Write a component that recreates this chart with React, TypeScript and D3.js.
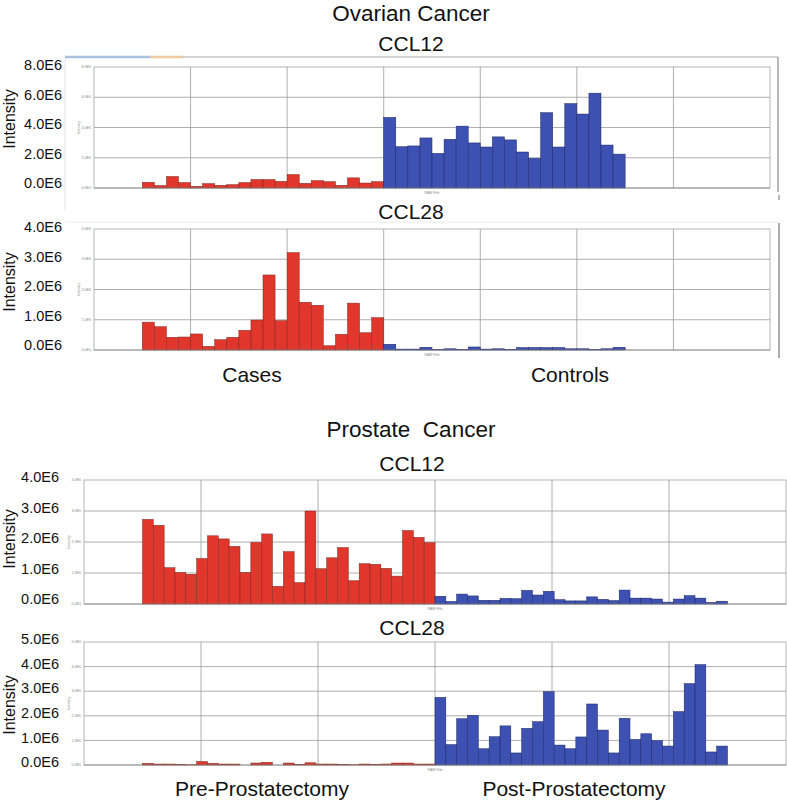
import React from "react";
import * as d3 from "d3";

// Values in units of 1E6 intensity
const ovarianCCL12Cases = [0.38, 0.16, 0.76, 0.36, 0.11, 0.29, 0.18, 0.22, 0.36, 0.56, 0.56, 0.44, 0.89, 0.31, 0.49, 0.42, 0.18, 0.67, 0.33, 0.42];
const ovarianCCL12Controls = [4.67, 2.73, 2.78, 3.31, 2.29, 3.22, 4.09, 2.98, 2.71, 3.38, 3.18, 2.38, 1.96, 4.98, 2.71, 5.58, 4.89, 6.27, 2.84, 2.24];
const ovarianCCL28Cases = [0.92, 0.77, 0.42, 0.43, 0.53, 0.12, 0.34, 0.42, 0.65, 0.99, 2.48, 0.97, 3.22, 1.58, 1.48, 0.14, 0.52, 1.55, 0.57, 1.07];
const ovarianCCL28Controls = [0.19, 0.03, 0.03, 0.09, 0.01, 0.04, 0.01, 0.1, 0.03, 0.04, 0.02, 0.08, 0.08, 0.08, 0.08, 0.04, 0.04, 0.01, 0.04, 0.09];
const prostateCCL12Pre = [2.73, 2.54, 1.17, 1.02, 0.96, 1.47, 2.2, 2.1, 1.86, 1.02, 1.99, 2.26, 0.57, 1.69, 0.69, 3.0, 1.14, 1.49, 1.82, 0.75, 1.3, 1.28, 1.15, 0.9, 2.37, 2.15, 1.98];
const prostateCCL12Post = [0.25, 0.08, 0.32, 0.26, 0.12, 0.12, 0.18, 0.17, 0.44, 0.29, 0.41, 0.14, 0.1, 0.1, 0.23, 0.15, 0.11, 0.45, 0.19, 0.19, 0.16, 0.06, 0.16, 0.27, 0.19, 0.05, 0.09];
const prostateCCL28Pre = [0.07, 0.04, 0.04, 0.03, 0.01, 0.14, 0.07, 0.04, 0.04, 0.0, 0.08, 0.11, 0.0, 0.08, 0.03, 0.09, 0.04, 0.04, 0.03, 0.01, 0.04, 0.03, 0.04, 0.08, 0.08, 0.04, 0.04];
const prostateCCL28Post = [2.75, 0.83, 1.88, 2.02, 0.66, 1.15, 1.59, 0.49, 1.49, 1.76, 2.98, 0.81, 0.66, 1.14, 2.48, 1.42, 0.49, 1.9, 1.04, 1.27, 0.99, 0.77, 2.17, 3.31, 4.08, 0.53, 0.77];

const ovarianTicks12 = [0, 2, 4, 6, 8];
const ovarianTicks28 = [0, 1, 2, 3, 4];
const prostateTicks12 = [0, 1, 2, 3, 4];
const prostateTicks28 = [0, 1, 2, 3, 4, 5];

const RED = "#e1362b";
const RED_STROKE = "#7a2a22";
const BLUE = "#3c51b1";
const BLUE_STROKE = "#1c2563";
const GRID = "#9a9a9a";
const SANS = "'Liberation Sans', Arial, sans-serif";

type Cfg = {
  red: number[];
  blue: number[];
  ticks: number[];
  left: number;
  right: number;
  top: number;
  bottom: number;
  before: number;
  total: number;
  cols: number;
  labelTop: number;
  labelBottom: number;
  labelX: number;
  intensityY: number;
  tinyZero: string;
};

function Panel({ c }: { c: Cfg }) {
  const yMax = c.ticks[c.ticks.length - 1];
  const x = d3.scaleLinear().domain([-c.before, c.total - c.before]).range([c.left, c.right]);
  const y = d3.scaleLinear().domain([0, yMax]).range([c.bottom, c.top]);
  const ly = d3.scaleLinear().domain([0, yMax]).range([c.labelBottom, c.labelTop]);
  const data = [
    ...c.red.map((v) => ({ v, g: 0 })),
    ...c.blue.map((v) => ({ v, g: 1 })),
  ];
  const xGrid = d3.range(1, c.cols).map((i) => -c.before + (i * c.total) / c.cols);
  const fmt = (d: number) => d.toFixed(1) + "E6";
  return (
    <g>
      <rect x={c.left} y={c.top} width={c.right - c.left} height={c.bottom - c.top} fill="#fff" stroke="#b5b5b5" strokeWidth={1} />
      {c.ticks.slice(1, -1).map((t) => (
        <line key={"h" + t} x1={c.left} x2={c.right} y1={y(t)} y2={y(t)} stroke={GRID} strokeWidth={0.8} />
      ))}
      {xGrid.map((g) => (
        <line key={"v" + g} x1={x(g)} x2={x(g)} y1={c.top} y2={c.bottom} stroke={GRID} strokeWidth={0.8} />
      ))}
      {data.map((d, i) => (
        <rect
          key={i}
          x={x(i)}
          y={y(d.v)}
          width={x(i + 1) - x(i)}
          height={c.bottom - y(d.v)}
          fill={d.g === 0 ? RED : BLUE}
          stroke={d.g === 0 ? RED_STROKE : BLUE_STROKE}
          strokeWidth={0.5}
        />
      ))}
      <line x1={c.left} x2={c.right} y1={c.bottom} y2={c.bottom} stroke="#888" strokeWidth={0.8} />
      {/* tiny inner axis labels */}
      {c.ticks.map((t) => (
        <text key={"s" + t} x={c.left - 3} y={y(t) + 1.2} fontSize={3.6} textAnchor="end" fill="#888" fontFamily={SANS}>
          {t === 0 ? c.tinyZero : fmt(t)}
        </text>
      ))}
      <text transform={`translate(${c.left - 14},${(c.top + c.bottom) / 2}) rotate(-90)`} fontSize={3.6} textAnchor="middle" fill="#888" fontFamily={SANS}>
        Intensity
      </text>
      <text x={(c.left + c.right) / 2} y={c.bottom + 6} fontSize={3.6} textAnchor="middle" fill="#888" fontFamily={SANS}>
        RAW File
      </text>
      {/* big axis labels */}
      {c.ticks.map((t) => (
        <text key={"b" + t} x={c.labelX} y={ly(t)} dy="0.36em" fontSize={14.5} textAnchor="end" fill="#111" fontFamily={SANS}>
          {fmt(t)}
        </text>
      ))}
      <text transform={`translate(15,${c.intensityY}) rotate(-90)`} fontSize={16} textAnchor="middle" fill="#111" fontFamily={SANS}>
        Intensity
      </text>
    </g>
  );
}

const panels: Cfg[] = [
  { red: ovarianCCL12Cases, blue: ovarianCCL12Controls, ticks: ovarianTicks12, left: 94, right: 770, top: 67, bottom: 188, before: 4, total: 56, cols: 7, labelTop: 65, labelBottom: 183, labelX: 62, intensityY: 119, tinyZero: "0.0E0" },
  { red: ovarianCCL28Cases, blue: ovarianCCL28Controls, ticks: ovarianTicks28, left: 94, right: 770, top: 229, bottom: 350, before: 4, total: 56, cols: 7, labelTop: 227, labelBottom: 345, labelX: 62, intensityY: 282, tinyZero: "0.0E0" },
  { red: prostateCCL12Pre, blue: prostateCCL12Post, ticks: prostateTicks12, left: 84, right: 786, top: 480, bottom: 604, before: 5.4, total: 64.8, cols: 6, labelTop: 477, labelBottom: 599, labelX: 59, intensityY: 539, tinyZero: "0.0E0" },
  { red: prostateCCL28Pre, blue: prostateCCL28Post, ticks: prostateTicks28, left: 84, right: 786, top: 642, bottom: 765, before: 5.4, total: 64.8, cols: 6, labelTop: 639, labelBottom: 762, labelX: 59, intensityY: 705, tinyZero: "0.0E0" },
];

export default function App() {
  return (
    <svg width={787} height={804} style={{ position: "absolute", left: 0, top: 0, background: "#fff" }}>
      <rect width={787} height={804} fill="#fff" />
      {/* screenshot frames */}
      <line x1={65} x2={65} y1={57} y2={210} stroke="#e6e6e6" strokeWidth={1} />
      <line x1={65} x2={150} y1={57} y2={57} stroke="#a9c3de" strokeWidth={2.5} />
      <line x1={150} x2={183} y1={57} y2={57} stroke="#efc9a1" strokeWidth={2.5} />
      <line x1={183} x2={778} y1={57} y2={57} stroke="#a8a8a8" strokeWidth={1.2} />
      <line x1={778} x2={778} y1={57} y2={192} stroke="#a0a0a0" strokeWidth={1.5} />
      <line x1={779} x2={779} y1={195} y2={200} stroke="#a0a0a0" strokeWidth={1.5} />
      <line x1={65} x2={779} y1={222} y2={222} stroke="#ececec" strokeWidth={1} />
      <line x1={779} x2={779} y1={223} y2={358} stroke="#909090" strokeWidth={1.5} />

      {panels.map((p, i) => (
        <Panel key={i} c={p} />
      ))}

      <text x={411} y={20.5} fontSize={22.5} textAnchor="middle" fill="#111" fontFamily={SANS}>Ovarian Cancer</text>
      <text x={411} y={51} fontSize={21} textAnchor="middle" fill="#111" fontFamily={SANS}>CCL12</text>
      <text x={411} y={219} fontSize={21} textAnchor="middle" fill="#111" fontFamily={SANS}>CCL28</text>
      <text x={252} y={382} fontSize={21} textAnchor="middle" fill="#111" fontFamily={SANS}>Cases</text>
      <text x={570} y={382} fontSize={21} textAnchor="middle" fill="#111" fontFamily={SANS}>Controls</text>

      <text x={411} y={437} fontSize={22.5} textAnchor="middle" fill="#111" fontFamily={SANS} style={{ whiteSpace: "pre" }}>{"Prostate  Cancer"}</text>
      <text x={412} y={471} fontSize={21} textAnchor="middle" fill="#111" fontFamily={SANS}>CCL12</text>
      <text x={412} y={635} fontSize={21} textAnchor="middle" fill="#111" fontFamily={SANS}>CCL28</text>
      <text x={262} y={796} fontSize={21} textAnchor="middle" fill="#111" fontFamily={SANS}>Pre-Prostatectomy</text>
      <text x={574} y={796} fontSize={21} textAnchor="middle" fill="#111" fontFamily={SANS}>Post-Prostatectomy</text>
    </svg>
  );
}
